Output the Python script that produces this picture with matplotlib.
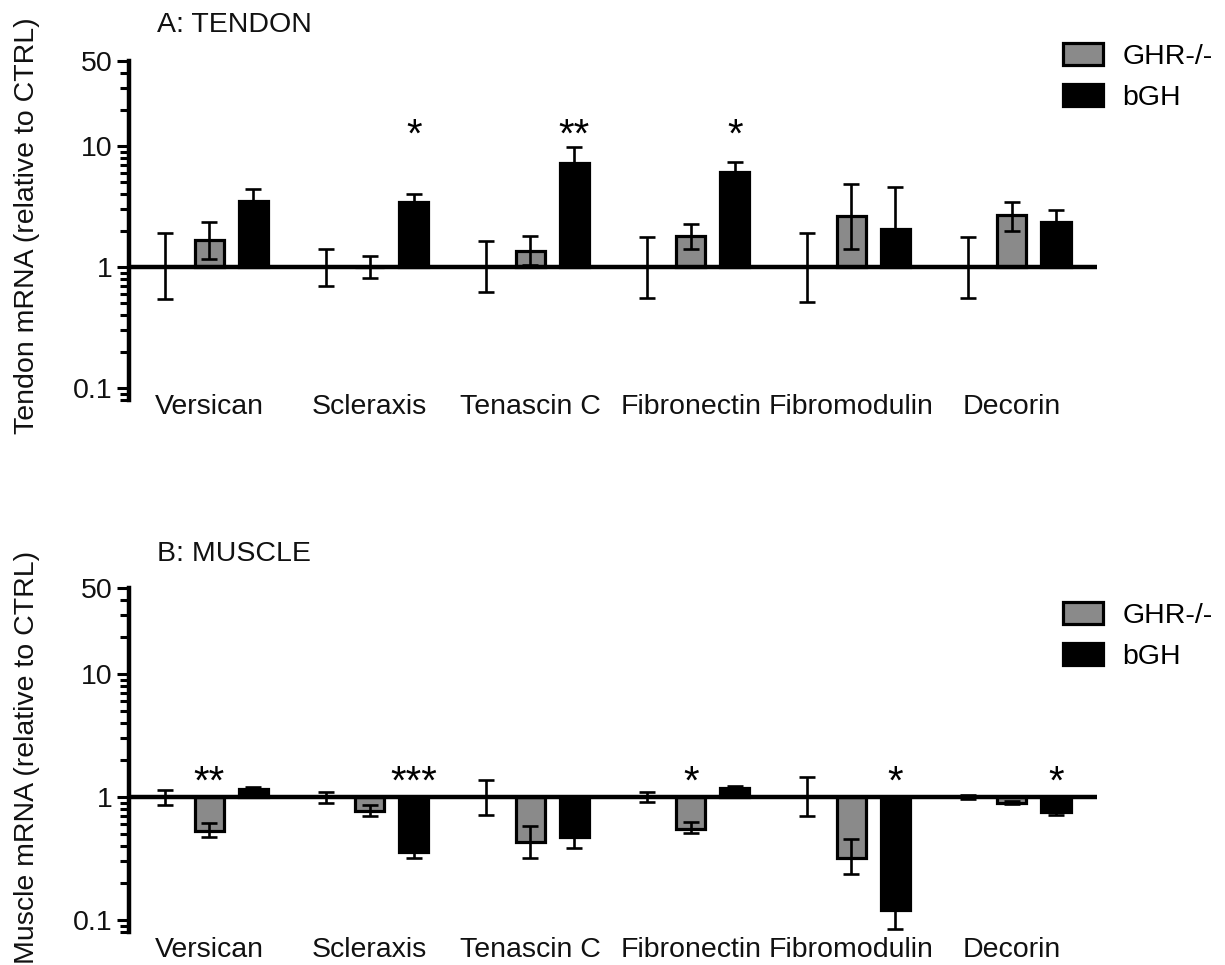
import matplotlib
matplotlib.use("Agg")
import matplotlib.pyplot as plt
from matplotlib.patches import Patch
from matplotlib.ticker import FixedLocator, NullFormatter
import numpy as np

plt.rcParams['font.family'] = ['Liberation Sans', 'DejaVu Sans']

genes = ["Versican", "Scleraxis", "Tenascin C", "Fibronectin", "Fibromodulin", "Decorin"]
legend_labels = ["GHR-/-", "bGH"]

# ---- Panel A: tendon ----
tendon_ctrl_lo = [0.54, 0.70, 0.62, 0.56, 0.51, 0.56]
tendon_ctrl_hi = [1.90, 1.40, 1.63, 1.78, 1.91, 1.78]
tendon_ghr = [1.67, 1.00, 1.35, 1.80, 2.65, 2.67]
tendon_ghr_lo = [1.16, 0.81, 1.04, 1.40, 1.40, 1.98]
tendon_ghr_hi = [2.35, 1.24, 1.82, 2.27, 4.85, 3.42]
tendon_bgh = [3.50, 3.42, 7.20, 6.10, 2.05, 2.35]
tendon_bgh_lo = [3.50, 3.42, 7.20, 6.10, 2.05, 2.35]
tendon_bgh_hi = [4.40, 4.00, 9.80, 7.35, 4.55, 2.96]
tendon_sig_ghr = ["", "", "", "", "", ""]
tendon_sig_bgh = ["", "*", "**", "*", "", ""]

# ---- Panel B: muscle ----
muscle_ctrl_lo = [0.86, 0.90, 0.71, 0.91, 0.70, 0.96]
muscle_ctrl_hi = [1.13, 1.10, 1.37, 1.10, 1.46, 1.04]
muscle_ghr = [0.53, 0.77, 0.43, 0.55, 0.32, 0.90]
muscle_ghr_lo = [0.47, 0.70, 0.32, 0.51, 0.235, 0.87]
muscle_ghr_hi = [0.61, 0.86, 0.58, 0.63, 0.46, 0.93]
muscle_bgh = [1.17, 0.36, 0.47, 1.18, 0.12, 0.76]
muscle_bgh_lo = [1.17, 0.32, 0.385, 1.18, 0.084, 0.72]
muscle_bgh_hi = [1.21, 0.36, 0.47, 1.22, 0.12, 0.76]
muscle_sig_ghr = ["**", "", "", "*", "", ""]
muscle_sig_bgh = ["", "***", "", "", "*", "*"]

GRAY = "#8a8a8a"
FS = 20.5
LW_AX = 3.2
LW_ERR = 1.9
GROUP_STEP = 3.64
BAR_W = 0.66

fig = plt.figure(figsize=(12.25, 9.65), dpi=100)


def draw_panel(ax, ctrl_lo, ctrl_hi, ghr, ghr_lo, ghr_hi, bgh, bgh_lo, bgh_hi,
               sig_ghr, sig_bgh, star_y, label_y):
    centers = np.arange(len(genes)) * GROUP_STEP
    x_ctrl = centers - 1
    x_ghr = centers
    x_bgh = centers + 1
    ghr = np.array(ghr); bgh = np.array(bgh)
    ax.bar(x_ghr, ghr - 1, bottom=1, width=BAR_W, color=GRAY,
           edgecolor="black", linewidth=2.3, zorder=2)
    ax.bar(x_bgh, bgh - 1, bottom=1, width=BAR_W, color="black",
           edgecolor="black", linewidth=2.3, zorder=2)
    ax.axhline(1, color="black", lw=LW_AX, zorder=3)
    ek = dict(fmt="none", ecolor="black", elinewidth=LW_ERR, capsize=6,
              capthick=LW_ERR, zorder=4)
    ones = np.ones(len(genes))
    ax.errorbar(x_ctrl, ones, yerr=[ones - np.array(ctrl_lo), np.array(ctrl_hi) - ones], **ek)
    ax.errorbar(x_ghr, ghr, yerr=[ghr - np.array(ghr_lo), np.array(ghr_hi) - ghr], **ek)
    ax.errorbar(x_bgh, bgh, yerr=[bgh - np.array(bgh_lo), np.array(bgh_hi) - bgh], **ek)
    for xs, sigs in ((x_ghr, sig_ghr), (x_bgh, sig_bgh)):
        for x, s in zip(xs, sigs):
            if s:
                ax.text(x, star_y, s, ha="center", va="baseline", fontsize=29,
                        color="black", zorder=5)
    for c, g in zip(centers, genes):
        ax.text(c, label_y, g, ha="center", va="baseline", fontsize=FS,
                color="#111111", clip_on=False)
    ax.set_yscale("log")
    ax.set_ylim(0.08, 50)
    ax.set_xlim(-1.82, centers[-1] + 1.93)
    for s in ("top", "right", "bottom"):
        ax.spines[s].set_visible(False)
    ax.spines["left"].set_linewidth(LW_AX)
    ax.set_xticks([])
    ax.yaxis.set_major_locator(FixedLocator([0.1, 1, 10, 50]))
    ax.set_yticklabels(["0.1", "1", "10", "50"])
    minor = [0.08, 0.09] + [k / 10 for k in range(2, 10)] + list(range(2, 10)) + [20, 30, 40]
    ax.yaxis.set_minor_locator(FixedLocator(minor))
    ax.yaxis.set_minor_formatter(NullFormatter())
    ax.tick_params(axis="y", which="major", length=9, width=2.2, labelsize=FS, pad=3,
                   labelcolor="#111111")
    ax.tick_params(axis="y", which="minor", length=6.5, width=2.2)


axA = fig.add_axes([0.1053, 0.5857, 0.7902, 0.3507])
draw_panel(axA, tendon_ctrl_lo, tendon_ctrl_hi, tendon_ghr, tendon_ghr_lo, tendon_ghr_hi,
           tendon_bgh, tendon_bgh_lo, tendon_bgh_hi, tendon_sig_ghr, tendon_sig_bgh,
           star_y=9.9, label_y=0.061)
axB = fig.add_axes([0.1053, 0.0342, 0.7902, 0.3565])
draw_panel(axB, muscle_ctrl_lo, muscle_ctrl_hi, muscle_ghr, muscle_ghr_lo, muscle_ghr_hi,
           muscle_bgh, muscle_bgh_lo, muscle_bgh_hi, muscle_sig_ghr, muscle_sig_bgh,
           star_y=1.07, label_y=0.050)

fig.text(157 / 1225, 1 - 25 / 965, "A: TENDON", fontsize=FS, ha="left", va="center", color="#111111")
fig.text(157 / 1225, 1 - 554 / 965, "B: MUSCLE", fontsize=FS, ha="left", va="center", color="#111111")
fig.text(27 / 1225, 1 - 226 / 965, "Tendon mRNA (relative to CTRL)", rotation=90,
         fontsize=FS, ha="center", va="center", color="#111111")
fig.text(27 / 1225, 1 - 757 / 965, "Muscle mRNA (relative to CTRL)", rotation=90,
         fontsize=FS, ha="center", va="center", color="#111111")

handles = [Patch(facecolor=GRAY, edgecolor="black", linewidth=2.3),
           Patch(facecolor="black", edgecolor="black", linewidth=2.3)]
for ytop in (43.5 / 965, 602.5 / 965):
    fig.legend(handles, legend_labels, loc="upper left",
               bbox_to_anchor=(1063 / 1225, 1 - ytop), frameon=False, fontsize=FS,
               handlelength=1.42, handleheight=0.78, handletextpad=0.66,
               labelspacing=0.5, borderpad=0, borderaxespad=0)

fig.savefig("out.png", dpi=100)
